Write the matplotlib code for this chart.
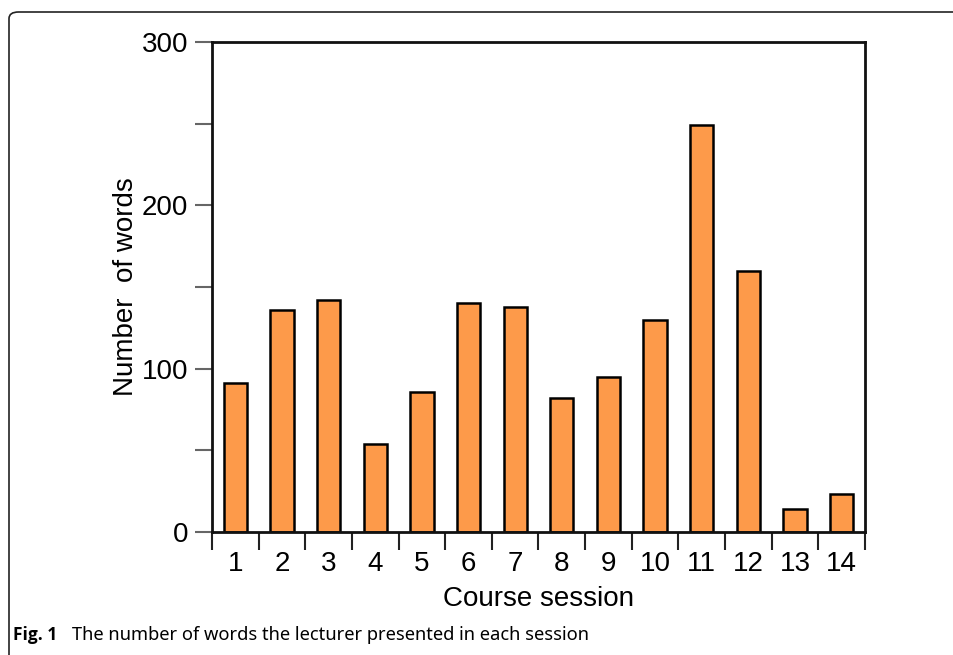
import matplotlib.pyplot as plt
from matplotlib.patches import FancyBboxPatch
from matplotlib.ticker import MultipleLocator, FixedLocator, NullFormatter

sessions = list(range(1, 15))
words = [91, 136, 142, 54, 86, 140, 138, 82, 95, 130, 249, 160, 14, 23]

plt.rcParams['font.family'] = ['Liberation Sans', 'DejaVu Sans']

fig = plt.figure(figsize=(9.54, 6.55), dpi=100)
ax = fig.add_axes([212 / 954, 1 - 532 / 655, (865 - 212) / 954, (532 - 42) / 655])

ax.bar(sessions, words, width=0.5, color='#FD9A4A', edgecolor='black', linewidth=1.8)

ax.set_xlim(0.5, 14.5)
ax.set_ylim(0, 300)

ax.yaxis.set_major_locator(MultipleLocator(100))
ax.yaxis.set_minor_locator(MultipleLocator(50))
ax.tick_params(axis='y', which='both', direction='out', length=12, width=1.5,
               color='#666666', labelsize=20, pad=5)

ax.set_xticks(sessions)
ax.tick_params(axis='x', which='major', length=0, labelsize=20, pad=14)
ax.xaxis.set_minor_locator(FixedLocator([s - 0.5 for s in sessions] + [14.5]))
ax.xaxis.set_minor_formatter(NullFormatter())
ax.tick_params(axis='x', which='minor', direction='out', length=13, width=1.5, color='#222222')

for s in ax.spines.values():
    s.set_linewidth(2)
    s.set_color('#111111')

ax.set_xlabel('Course session', fontsize=20, labelpad=6)
ax.set_ylabel('Number  of words', fontsize=20, labelpad=2)

# figure frame
fig.add_artist(FancyBboxPatch((9 / 954, -0.1), 1.2, 1 - 12 / 655 + 0.1,
                              boxstyle='round,pad=0,rounding_size=0.01',
                              transform=fig.transFigure, fill=False,
                              edgecolor='#222222', linewidth=1.2))

fig.text(13 / 954, 1 - 640 / 655, 'Fig. 1', fontsize=12.5, fontweight='bold',
         family=['Open Sans', 'DejaVu Sans'], va='baseline')
fig.text(72 / 954, 1 - 640 / 655, 'The number of words the lecturer presented in each session',
         fontsize=13.2, family=['Noto Sans', 'DejaVu Sans'], va='baseline')

fig.savefig('out.png', dpi=100)
